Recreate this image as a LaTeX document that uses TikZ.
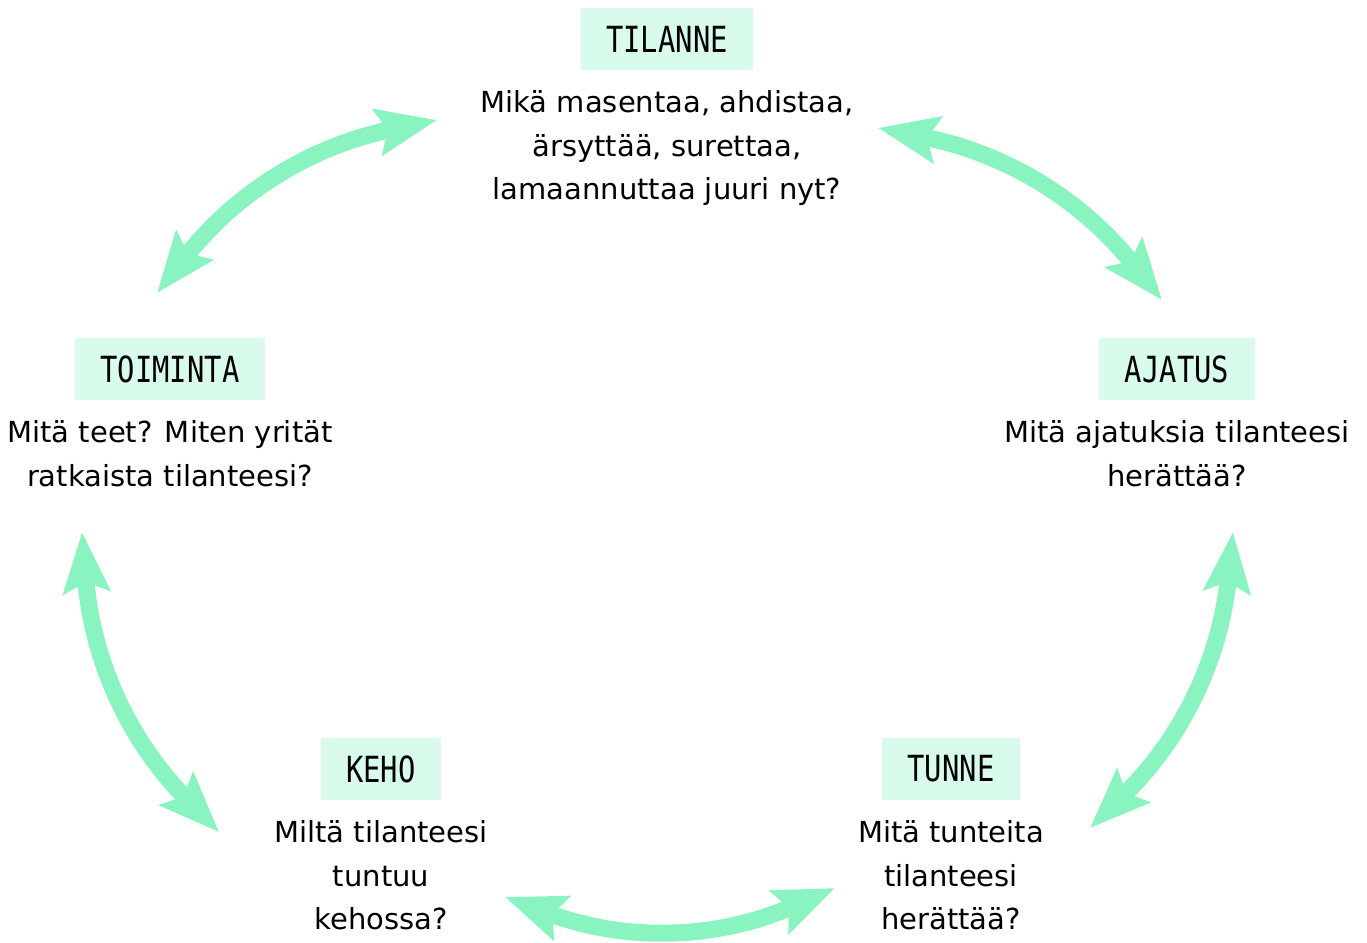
\documentclass[tikz,border=0pt]{standalone}
\usepackage{fontspec}
\setmainfont{DejaVu Sans}
\newfontfamily\titlefont[FakeStretch=0.8]{DejaVu Sans Mono}
\usetikzlibrary{arrows.meta,positioning}

\definecolor{mintline}{HTML}{8AF4C0}
\definecolor{mintfill}{HTML}{D9FBEB}

\begin{document}
\begin{tikzpicture}[
    x=0.5pt, y=0.5pt,
    titlebox/.style={rectangle, fill=mintfill, minimum height=31pt, inner xsep=12.8pt, font=\titlefont\fontsize{18}{18}\selectfont},
    question/.style={align=center, inner sep=0pt, font=\fontsize{14.5}{21.7}\selectfont},
    cycle/.style={draw=mintline, line width=8.5pt, {Stealth[length=30pt,width=23pt,inset=5pt]}-{Stealth[length=30pt,width=23pt,inset=5pt]}}
]
\useasboundingbox (0,0) rectangle (1367,943);

% Nodes
\node[titlebox] (tilanne) at (667,904) {TILANNE};
\node[question, below=10pt of tilanne] (tilanneq) {Mikä masentaa, ahdistaa,\\ärsyttää, surettaa,\\lamaannuttaa juuri nyt?};
\node[titlebox] (ajatus) at (1177,574) {AJATUS};
\node[question, below=10pt of ajatus] (ajatusq) {Mitä ajatuksia tilanteesi\\herättää?};
\node[titlebox] (toiminta) at (170,574) {TOIMINTA};
\node[question, below=10pt of toiminta] (toimintaq) {Mitä teet? Miten yrität\\ratkaista tilanteesi?};
\node[titlebox] (keho) at (381,174) {KEHO};
\node[question, below=10pt of keho] (kehoq) {Miltä tilanteesi\\tuntuu\\kehossa?};
\node[titlebox] (tunne) at (951,174) {TUNNE};
\node[question, below=10pt of tunne] (tunneq) {Mitä tunteita\\tilanteesi\\herättää?};

% Arrow ends
\coordinate (toiminta_in) at (157,650);
\coordinate (tilanne_w) at (437,823);
\coordinate (tilanne_e) at (878,815);
\coordinate (ajatus_in) at (1162,643);
\coordinate (ajatus_out) at (1233,411);
\coordinate (tunne_in) at (1090,115);
\coordinate (keho_e) at (505,46);
\coordinate (tunne_w) at (835,55);
\coordinate (toiminta_out) at (82,411);
\coordinate (keho_in) at (219,111);

% Lines
\draw[cycle] (toiminta_in) to [bend left=20] (tilanne_w);
\draw[cycle] (tilanne_e) to [bend left=20] (ajatus_in);
\draw[cycle] (ajatus_out) to [bend left=20] (tunne_in);
\draw[cycle] (keho_e) to [bend right=22] (tunne_w);
\draw[cycle] (toiminta_out) to [bend right=20] (keho_in);

\end{tikzpicture}
\end{document}
